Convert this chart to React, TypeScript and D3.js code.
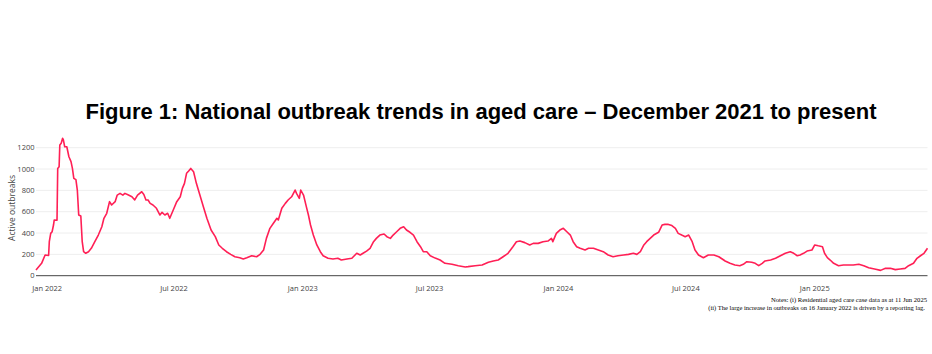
import React from "react";
import * as d3 from "d3";

const dates: string[] = [
  "2021-12-16","2021-12-24","2021-12-29","2022-01-03","2022-01-04","2022-01-06","2022-01-08","2022-01-10","2022-01-11","2022-01-15",
  "2022-01-16","2022-01-18","2022-01-19","2022-01-21","2022-01-23","2022-01-24","2022-01-26","2022-01-29","2022-02-01","2022-02-04",
  "2022-02-06","2022-02-08","2022-02-11","2022-02-13","2022-02-15","2022-02-18","2022-02-20","2022-02-22","2022-02-25","2022-03-01",
  "2022-03-05","2022-03-10","2022-03-15","2022-03-20","2022-03-23","2022-03-27","2022-03-31","2022-04-03","2022-04-08","2022-04-11",
  "2022-04-15","2022-04-19","2022-04-22","2022-04-27","2022-05-02","2022-05-06","2022-05-10","2022-05-16","2022-05-19","2022-05-22",
  "2022-05-25","2022-05-28","2022-06-01","2022-06-06","2022-06-11","2022-06-14","2022-06-18","2022-06-22","2022-06-25","2022-06-30",
  "2022-07-05","2022-07-10","2022-07-13","2022-07-16","2022-07-19","2022-07-22","2022-07-25","2022-07-29","2022-08-02","2022-08-07",
  "2022-08-12","2022-08-17","2022-08-23","2022-08-29","2022-09-03","2022-09-08","2022-09-14","2022-09-20","2022-09-26","2022-10-03",
  "2022-10-08","2022-10-13","2022-10-20","2022-10-27","2022-11-01","2022-11-06","2022-11-10","2022-11-15","2022-11-20","2022-11-25",
  "2022-11-27","2022-12-02","2022-12-07","2022-12-11","2022-12-16","2022-12-21","2022-12-23","2022-12-27","2022-12-29","2023-01-02",
  "2023-01-06","2023-01-09","2023-01-12","2023-01-16","2023-01-21","2023-01-26","2023-01-30","2023-02-06","2023-02-13","2023-02-20",
  "2023-02-25","2023-03-05","2023-03-12","2023-03-19","2023-03-24","2023-03-28","2023-04-02","2023-04-07","2023-04-12","2023-04-16",
  "2023-04-21","2023-04-27","2023-05-01","2023-05-06","2023-05-10","2023-05-15","2023-05-20","2023-05-25","2023-05-29","2023-06-03",
  "2023-06-08","2023-06-13","2023-06-18","2023-06-22","2023-06-27","2023-07-02","2023-07-09","2023-07-16","2023-07-23","2023-08-02",
  "2023-08-11","2023-08-21","2023-08-25","2023-09-04","2023-09-14","2023-09-23","2023-09-30","2023-10-07","2023-10-14","2023-10-21",
  "2023-10-28","2023-11-02","2023-11-07","2023-11-14","2023-11-21","2023-11-26","2023-12-03","2023-12-10","2023-12-17","2023-12-22",
  "2023-12-24","2023-12-29","2024-01-03","2024-01-08","2024-01-13","2024-01-18","2024-01-22","2024-01-27","2024-02-01","2024-02-08",
  "2024-02-13","2024-02-20","2024-02-27","2024-03-05","2024-03-12","2024-03-19","2024-03-26","2024-04-03","2024-04-10","2024-04-17",
  "2024-04-22","2024-04-27","2024-05-02","2024-05-06","2024-05-11","2024-05-16","2024-05-23","2024-05-28","2024-06-01","2024-06-06",
  "2024-06-11","2024-06-16","2024-06-20","2024-06-25","2024-06-30","2024-07-05","2024-07-10","2024-07-14","2024-07-19","2024-07-26",
  "2024-08-02","2024-08-10","2024-08-17","2024-08-24","2024-08-26","2024-09-02","2024-09-09","2024-09-16","2024-09-21","2024-09-26",
  "2024-10-03","2024-10-08","2024-10-13","2024-10-18","2024-10-22","2024-10-30","2024-11-06","2024-11-13","2024-11-20","2024-11-27",
  "2024-12-02","2024-12-07","2024-12-11","2024-12-16","2024-12-21","2024-12-28","2025-01-01","2025-01-06","2025-01-12","2025-01-15",
  "2025-01-19","2025-01-23","2025-01-28","2025-02-04","2025-02-11","2025-02-18","2025-02-25","2025-03-05","2025-03-12","2025-03-19",
  "2025-03-29","2025-04-05","2025-04-12","2025-04-19","2025-04-26","2025-05-03","2025-05-10","2025-05-15","2025-05-22","2025-05-27",
  "2025-06-01","2025-06-06","2025-06-11"
];

const activeOutbreaks: number[] = [
  53,116,194,190,319,397,412,475,522,520,
  1006,1022,1225,1241,1288,1275,1209,1209,1115,1069,
  1006,913,900,803,569,560,319,225,210,225,
  257,319,381,459,538,585,694,663,694,756,
  772,756,772,756,740,710,756,787,762,710,
  710,678,663,632,569,594,569,585,538,616,
  694,740,819,866,960,981,1006,975,866,756,
  647,538,428,366,288,257,225,200,178,169,
  157,169,187,178,200,241,350,444,491,538,
  522,632,678,710,740,803,772,725,803,756,
  647,569,475,381,288,225,187,163,157,163,
  147,157,163,210,194,210,231,257,319,350,
  381,391,366,350,381,412,444,459,428,407,
  381,319,272,225,225,187,165,147,116,107,
  94,82,85,94,100,126,138,147,178,210,
  272,319,325,310,288,303,303,319,325,350,
  319,397,428,444,412,381,319,272,257,241,
  257,257,241,225,194,178,187,194,200,210,
  200,225,288,319,350,381,407,475,481,481,
  470,444,397,381,366,381,319,241,194,169,
  194,194,178,147,138,116,100,94,107,131,
  126,116,94,116,138,147,163,187,210,225,
  210,187,194,210,231,241,288,280,272,210,
  169,147,116,94,100,100,100,107,94,75,
  60,50,69,69,57,63,69,94,116,163,
  187,210,257
];

const yTicks: number[] = [0, 200, 400, 600, 800, 1000, 1200];
const xTickDates: string[] = ["2022-01-01", "2022-07-01", "2023-01-01", "2023-07-01", "2024-01-01", "2024-07-01", "2025-01-01"];
const xTickLabels: string[] = ["Jan 2022", "Jul 2022", "Jan 2023", "Jul 2023", "Jan 2024", "Jul 2024", "Jan 2025"];

const W = 932;
const H = 354;
const left = 36;
const right = 927.5;

export default function App() {
  const parse = d3.utcParse("%Y-%m-%d");
  const data = dates.map((d, i) => ({ date: parse(d) as Date, value: activeOutbreaks[i] }));
  const x = d3
    .scaleUtc()
    .domain([parse("2021-12-16") as Date, parse("2025-06-11") as Date])
    .range([left, right]);
  const y = d3.scaleLinear().domain([0, 1200]).range([275.7, 147.7]);
  const line = d3
    .line<{ date: Date; value: number }>()
    .x((d) => x(d.date))
    .y((d) => y(d.value));
  const tickFont = "'Open Sans', sans-serif";

  return (
    <svg
      width={W}
      height={H}
      style={{ position: "absolute", left: 0, top: 0, background: "#fff" }}
    >
      <text
        x={481}
        y={119}
        textAnchor="middle"
        fontFamily="'Liberation Sans', Arial, sans-serif"
        fontWeight="bold"
        fontSize={22}
        fill="#000"
      >
        Figure 1: National outbreak trends in aged care – December 2021 to present
      </text>
      {yTicks.map((t) =>
        t === 0 ? null : (
          <line key={"g" + t} x1={left} x2={right} y1={y(t)} y2={y(t)} stroke="#eeeeee" strokeWidth={1} />
        )
      )}
      {yTicks.map((t) => (
        <text
          key={"yl" + t}
          x={34.5}
          y={y(t)}
          dy="0.35em"
          textAnchor="end"
          fontFamily={tickFont}
          fontSize={7.5}
          fill="#444"
        >
          {t}
        </text>
      ))}
      {xTickDates.map((d, i) => (
        <text
          key={"xl" + d}
          x={x(parse(d) as Date)}
          y={291}
          textAnchor="middle"
          fontFamily={tickFont}
          fontSize={7.5}
          fill="#444"
        >
          {xTickLabels[i]}
        </text>
      ))}
      <text
        transform={`translate(14.5, 208) rotate(-90)`}
        textAnchor="middle"
        fontFamily={tickFont}
        fontSize={8.5}
        fill="#444"
      >
        Active outbreaks
      </text>
      <path d={line(data) || ""} fill="none" stroke="#ff1f55" strokeWidth={1.6} strokeLinejoin="round" />
      <line x1={left} x2={right} y1={y(0)} y2={y(0)} stroke="#444" strokeWidth={1} />
      <text
        x={927}
        y={302}
        textAnchor="end"
        fontFamily="'Liberation Serif', 'Times New Roman', serif"
        fontSize={6.6}
        fill="#000"
      >
        Notes: (i) Residential aged care case data as at 11 Jun 2025
      </text>
      <text
        x={925}
        y={310}
        textAnchor="end"
        fontFamily="'Liberation Serif', 'Times New Roman', serif"
        fontSize={6.5}
        fill="#000"
      >
        (ii) The large increase in outbreaks on 16 January 2022 is driven by a reporting lag.
      </text>
    </svg>
  );
}
